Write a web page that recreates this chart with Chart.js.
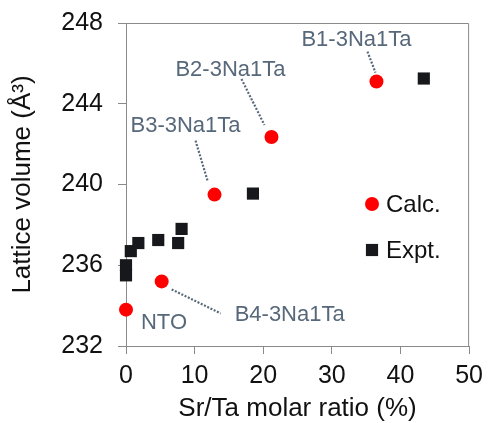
<!DOCTYPE html>
<html>
<head>
<meta charset="utf-8">
<script src="https://cdn.jsdelivr.net/npm/chart.js@4.4.1/dist/chart.umd.min.js"></script>
<style>
  body { margin: 0; background: #fff; }
  #wrap { width: 490px; height: 423px; }
</style>
</head>
<body>
<div id="wrap"><canvas id="chart" width="490" height="423"></canvas></div>
<script>
// calculated structures (B1..B4 models + pure NTO)
const calcNames = ["NTO", "B4-3Na1Ta", "B3-3Na1Ta", "B2-3Na1Ta", "B1-3Na1Ta"];
const calcRatio = [0, 5.2, 12.9, 21.2, 36.5];
const calcVolume = [233.8, 235.2, 239.5, 242.35, 245.1];

// measured samples
const exptRatio = [0, 0, 0.7, 1.8, 4.7, 7.6, 8.1, 18.5, 43.4];
const exptVolume = [235.5, 236.0, 236.7, 237.1, 237.25, 237.1, 237.8, 239.55, 245.25];

const xMin = 0, xMax = 50, xStep = 10;
const yMin = 232, yMax = 248, yStep = 4;

const FONT = '"Liberation Sans", Arial, sans-serif';
const AXIS_GREY = "#8a8a8a";
const NOTE_COLOR = "#57687a";

// where each calc label sits relative to its point, plus the dotted leader
const noteOffsets = [
  { dx: 38, dy: 13, line: null },
  { dx: 128, dy: 34, line: [10, 8, 59, 32] },
  { dx: -29, dy: -69, line: [-19, -54, -7, -14] },
  { dx: -41, dy: -67, line: [-30, -58, -7, -12] },
  { dx: -20, dy: -42, line: [-9, -30, -1, -9] },
];

const toPoints = (xs, ys) => xs.map((x, i) => ({ x: x, y: ys[i] }));

const frameBox = {
  id: "frameBox",
  afterDraw(chart) {
    const { ctx, chartArea: a } = chart;
    ctx.save();
    ctx.strokeStyle = AXIS_GREY;
    ctx.lineWidth = 1;
    ctx.beginPath();
    ctx.moveTo(a.left, a.top + 0.5);
    ctx.lineTo(a.right - 0.5, a.top + 0.5);
    ctx.lineTo(a.right - 0.5, a.bottom);
    ctx.stroke();
    ctx.restore();
  },
};

const pointNotes = {
  id: "pointNotes",
  afterDatasetsDraw(chart) {
    const ctx = chart.ctx;
    const meta = chart.getDatasetMeta(0);
    ctx.save();
    ctx.font = "22px " + FONT;
    ctx.fillStyle = NOTE_COLOR;
    ctx.strokeStyle = NOTE_COLOR;
    ctx.textAlign = "center";
    ctx.textBaseline = "middle";
    calcNames.forEach((name, i) => {
      const p = meta.data[i];
      const o = noteOffsets[i];
      ctx.fillText(name, p.x + o.dx, p.y + o.dy);
      if (o.line) {
        ctx.setLineDash([2, 1.6]);
        ctx.lineWidth = 2.2;
        ctx.beginPath();
        ctx.moveTo(p.x + o.line[0], p.y + o.line[1]);
        ctx.lineTo(p.x + o.line[2], p.y + o.line[3]);
        ctx.stroke();
      }
    });
    ctx.restore();
  },
};

// legend sits inside the plot, right side
const innerLegend = {
  id: "innerLegend",
  afterDraw(chart) {
    const { ctx, chartArea: a } = chart;
    const x = a.left + 246;
    const rows = [a.top + 181, a.top + 227];
    ctx.save();
    ctx.font = "24px " + FONT;
    ctx.textBaseline = "middle";
    chart.data.datasets.forEach((ds, i) => {
      ctx.fillStyle = ds.backgroundColor;
      Chart.helpers.drawPoint(ctx, {
        pointStyle: ds.pointStyle,
        radius: ds.pointRadius,
        borderWidth: 0,
        rotation: 0,
      }, x, rows[i]);
      ctx.fillStyle = "#111";
      ctx.fillText(ds.label, x + 14, rows[i] + 1);
    });
    ctx.restore();
  },
};

new Chart(document.getElementById("chart"), {
  type: "scatter",
  data: {
    datasets: [
      {
        label: "Calc.",
        data: toPoints(calcRatio, calcVolume),
        pointStyle: "circle",
        pointRadius: 7,
        pointHoverRadius: 7,
        backgroundColor: "#ff0000",
        borderColor: "#ff0000",
        borderWidth: 0,
        clip: false,
      },
      {
        label: "Expt.",
        data: toPoints(exptRatio, exptVolume),
        pointStyle: "rect",
        pointRadius: 8.6,
        pointHoverRadius: 8.6,
        backgroundColor: "#16181b",
        borderColor: "#16181b",
        borderWidth: 0,
        clip: false,
      },
    ],
  },
  options: {
    responsive: false,
    animation: false,
    events: [],
    layout: { padding: { left: 0, top: 23, right: 16, bottom: 0 } },
    plugins: {
      legend: { display: false },
      tooltip: { enabled: false },
    },
    scales: {
      x: {
        min: xMin,
        max: xMax,
        afterFit: (scale) => { scale.height = 77; },
        ticks: {
          stepSize: xStep,
          color: "#111",
          font: { family: FONT, size: 25 },
          padding: 7,
          maxRotation: 0,
        },
        grid: { drawOnChartArea: false, drawTicks: true, tickLength: 8, color: AXIS_GREY },
        border: { color: AXIS_GREY, width: 1 },
        title: {
          display: true,
          text: "Sr/Ta molar ratio (%)",
          color: "#111",
          font: { family: FONT, size: 26, lineHeight: 1 },
          padding: { top: 0, bottom: 1 },
        },
      },
      y: {
        min: yMin,
        max: yMax,
        afterFit: (scale) => {
          scale.width = 126;
          // label overhang would otherwise push the plot top down
          scale.paddingTop = 0;
          scale.paddingBottom = 0;
        },
        ticks: {
          stepSize: yStep,
          color: "#111",
          font: { family: FONT, size: 25 },
          padding: 15,
        },
        grid: { drawOnChartArea: false, drawTicks: true, tickLength: 8, color: AXIS_GREY },
        border: { color: AXIS_GREY, width: 1 },
        title: {
          display: true,
          text: "Lattice volume (Å³)",
          color: "#111",
          font: { family: FONT, size: 26, lineHeight: 1 },
          padding: { top: 10, bottom: 0 },
        },
      },
    },
  },
  plugins: [frameBox, pointNotes, innerLegend],
});
</script>
</body>
</html>
